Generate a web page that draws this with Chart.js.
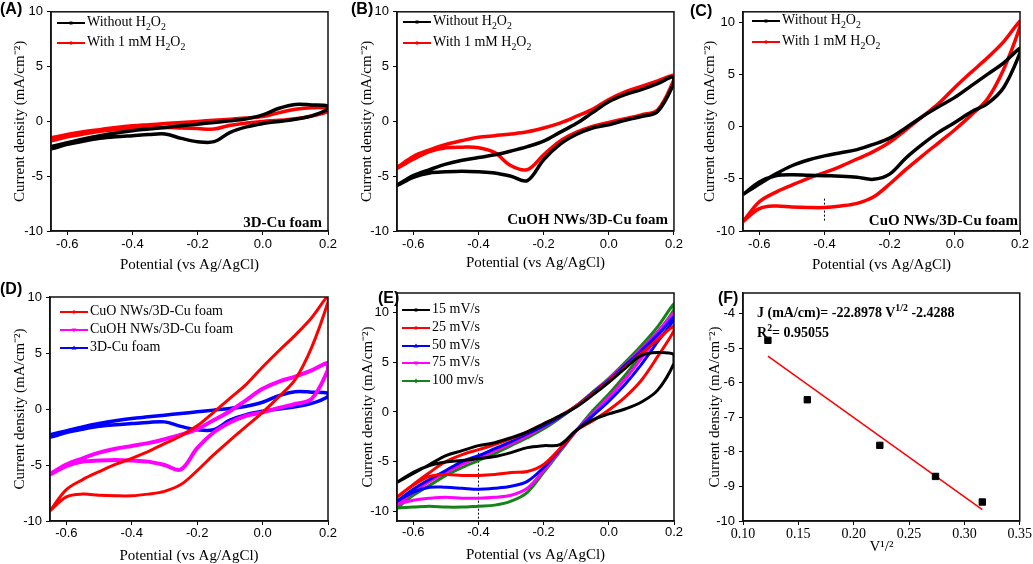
<!DOCTYPE html>
<html><head><meta charset="utf-8">
<script src="https://cdn.jsdelivr.net/npm/chart.js@4.4.1/dist/chart.umd.min.js"></script>
<style>
body{margin:0;background:#fff;width:1033px;height:564px;position:relative;overflow:hidden}
canvas{position:absolute}
.lbl{position:absolute;font:bold 16px "Liberation Sans",Arial,sans-serif;line-height:16px;color:#000}
.leg{position:absolute;font:14px "Liberation Serif","Times New Roman",serif;line-height:16px;white-space:nowrap;color:#000}
.legs{position:absolute}
.note{position:absolute;font:bold 15px "Liberation Serif","Times New Roman",serif;white-space:nowrap;line-height:16px;color:#000}
sub,sup{font-size:70%;line-height:0}
</style></head><body>
<canvas id="cA" width="340" height="280" style="left:0;top:0"></canvas>
<canvas id="cB" width="345" height="280" style="left:340px;top:0"></canvas>
<canvas id="cC" width="348" height="280" style="left:685px;top:0"></canvas>
<canvas id="cD" width="340" height="284" style="left:0;top:280px"></canvas>
<canvas id="cE" width="345" height="284" style="left:340px;top:280px"></canvas>
<canvas id="cF" width="348" height="284" style="left:685px;top:280px"></canvas>
<div id="overlay"></div>
<script>
// ---------- data ----------
const potentials = [-0.65,-0.6,-0.55,-0.5,-0.45,-0.4,-0.35,-0.3,-0.25,-0.2,-0.15,-0.1,-0.05,0,0.05,0.1,0.15,0.2];
const xTicksCV = [-0.6,-0.4,-0.2,0.0,0.2];
const yTicksCV = [-10,-5,0,5,10];
const xTicksF = [0.10,0.15,0.20,0.25,0.30,0.35];
const yTicksF = [-10,-9,-8,-7,-6,-5,-4];

// (A) 3D-Cu foam
const aWithoutUp   = [-2.3,-1.95,-1.6,-1.3,-1.05,-0.85,-0.7,-0.55,-0.4,-0.25,-0.1,0.05,0.25,0.6,1.2,1.55,1.5,1.4];
const aWithoutDown = [-2.5,-2.1,-1.8,-1.55,-1.4,-1.3,-1.2,-1.15,-1.55,-1.85,-1.85,-1.0,-0.5,-0.2,0.0,0.2,0.5,1.1];
const aWithUp      = [-1.5,-1.2,-0.95,-0.75,-0.55,-0.4,-0.3,-0.2,-0.1,0.0,0.1,0.2,0.3,0.45,0.8,1.1,1.25,1.2];
const aWithDown    = [-1.75,-1.4,-1.15,-0.9,-0.75,-0.6,-0.55,-0.55,-0.6,-0.65,-0.7,-0.35,-0.15,0.0,0.1,0.25,0.5,0.9];
// (B) CuOH NWs/3D-Cu foam
const bWithoutUp   = [-5.8,-4.95,-4.4,-3.9,-3.55,-3.3,-3.05,-2.7,-2.3,-1.8,-1.0,-0.2,0.8,1.8,2.45,2.9,3.45,4.1];
const bWithoutDown = [-5.85,-5.1,-4.7,-4.6,-4.55,-4.6,-4.7,-5.0,-5.4,-3.5,-2.1,-1.2,-0.6,-0.3,0.1,0.45,0.9,3.5];
const bWithUp      = [-4.2,-3.2,-2.6,-2.1,-1.75,-1.45,-1.3,-1.15,-0.95,-0.6,-0.15,0.45,1.1,2.0,2.7,3.2,3.7,4.2];
const bWithDown    = [-4.3,-3.45,-2.75,-2.4,-2.35,-2.4,-2.85,-4.05,-4.4,-3.05,-1.8,-1.0,-0.45,-0.1,0.25,0.6,1.05,3.8];
// (C) CuO NWs/3D-Cu foam
const cWithoutUp   = [-6.5,-5.5,-4.55,-3.75,-3.2,-2.8,-2.5,-2.2,-1.7,-1.1,-0.1,0.95,1.9,2.8,3.9,5.0,6.1,7.5];
const cWithoutDown = [-6.5,-5.3,-4.7,-4.6,-4.65,-4.7,-4.75,-4.85,-5.05,-4.55,-3.0,-1.7,-0.55,0.4,1.4,2.2,3.75,7.05];
const cWithUp      = [-9.1,-7.2,-6.3,-5.6,-4.95,-4.4,-3.8,-3.1,-2.4,-1.5,-0.3,0.95,2.2,3.75,5.2,6.6,8.15,10.1];
const cWithDown    = [-9.1,-7.85,-7.6,-7.7,-7.75,-7.75,-7.6,-7.35,-6.75,-5.5,-4.1,-2.8,-1.55,-0.3,1.1,2.65,5.5,9.55];
const cMarkX = [-0.4,-0.4];
const cMarkY = [-6.9,-9.1];
// (E) scan rates
const e15Up   = [-7.1,-6.2,-5.3,-4.4,-3.9,-3.4,-3.1,-2.6,-2.0,-1.2,-0.4,0.5,1.7,3.0,4.4,5.7,6.0,5.8];
const e15Down = [-7.1,-6.1,-5.4,-5.05,-4.9,-4.7,-4.5,-4.1,-3.6,-3.4,-3.3,-1.85,-0.8,-0.2,0.3,1.0,2.2,4.9];
const e25Up   = [-8.6,-7.3,-6.1,-5.0,-4.3,-3.8,-3.3,-2.7,-2.0,-1.2,-0.4,0.6,1.8,3.1,4.5,5.9,7.3,8.7];
const e25Down = [-8.6,-7.4,-6.5,-6.3,-6.4,-6.4,-6.3,-6.1,-6.0,-5.3,-3.7,-1.9,-0.9,0.2,1.5,3.2,5.6,8.2];
const e50Up   = [-9.0,-7.8,-6.8,-5.9,-5.0,-4.4,-3.7,-3.0,-2.2,-1.4,-0.5,0.6,1.9,3.2,4.7,6.2,7.8,9.6];
const e50Down = [-9.0,-8.1,-7.6,-7.6,-7.7,-7.8,-7.7,-7.5,-7.0,-5.6,-3.8,-1.9,-0.4,1.1,2.8,4.8,7.1,9.3];
const e75Up   = [-9.3,-8.1,-7.0,-6.1,-5.3,-4.6,-3.9,-3.2,-2.4,-1.5,-0.5,0.6,1.9,3.3,4.8,6.4,8.1,10.0];
const e75Down = [-9.3,-8.9,-8.7,-8.6,-8.7,-8.7,-8.6,-8.4,-7.7,-5.9,-3.9,-1.9,-0.2,1.5,3.3,5.4,7.6,9.8];
const e100Up  = [-9.7,-8.4,-7.4,-6.4,-5.6,-4.9,-4.2,-3.4,-2.6,-1.7,-0.6,0.6,2.0,3.4,5.0,6.7,8.6,10.9];
const e100Down= [-9.7,-9.6,-9.5,-9.6,-9.6,-9.5,-9.4,-9.0,-8.1,-6.1,-4.0,-1.9,0.1,1.8,3.7,5.8,8.0,10.3];
const eMarkX = [-0.4,-0.4];
const eMarkY = [-3.3,-11];
// (F) peak current vs sqrt(scan rate)
const fX = [0.1225,0.1581,0.2236,0.2739,0.3162];
const fY = [-4.77,-6.49,-7.81,-8.71,-9.45];
const fitX = [0.1225,0.3162];
const fitY = [-5.23,-9.67];

// ---------- helpers ----------
function loop(up, down){
  const pts = potentials.map((x,i)=>({x, y:up[i]}));
  for(let i=potentials.length-1;i>=0;i--) pts.push({x:potentials[i], y:down[i]});
  pts.push({x:potentials[0], y:up[0]});
  return pts;
}
function cv(label, up, down, color, w){
  return {label, data:loop(up,down), borderColor:color, backgroundColor:color, borderWidth:w,
    pointRadius:0, showLine:true, tension:0.35, fill:false};
}
function pairs(xs, ys){ return xs.map((x,i)=>({x, y:ys[i]})); }
function dotted(xs, ys){
  return {label:'marker', data:pairs(xs,ys), borderColor:'#000', borderWidth:1, borderDash:[2,2],
    pointRadius:0, showLine:true, tension:0};
}
const frame = {id:'frame', afterDraw(c){const a=c.chartArea, x=c.ctx; x.save(); x.strokeStyle='#111'; x.lineWidth=1.5;
  x.strokeRect(a.left, a.top, a.right-a.left, a.bottom-a.top); x.restore();}};

const sans = {family:'"Liberation Sans", Arial, sans-serif', size:13};
const serifT = {family:'"Liberation Serif", "Times New Roman", serif', size:14};
const titleFont = {family:'"Liberation Serif", "Times New Roman", serif', size:15, lineHeight:1};
const yTitle = 'Current density (mA/cm\u207B\u00B2)';
const xTitle = 'Potential (vs Ag/AgCl)';

function make(id, datasets, p){
  new Chart(document.getElementById(id), {
    type:'scatter',
    data:{datasets},
    options:{
      responsive:false, animation:false, devicePixelRatio:1,
      layout:{padding:{left:0, right:p.padR, top:p.padT, bottom:0}},
      plugins:{legend:{display:false}, tooltip:{enabled:false}},
      scales:{
        x:{type:'linear', min:p.xmin, max:p.xmax,
          afterFit:s=>{s.height=p.H;},
          afterBuildTicks:s=>{s.ticks=p.xticks.map(v=>({value:v}));},
          ticks:{callback:v=>Number(v).toFixed(p.xdec), font:p.xfont||sans, color:'#000', padding:p.xpad, maxRotation:0, autoSkip:false},
          grid:{drawOnChartArea:false, drawTicks:true, tickLength:4, color:'#000', lineWidth:1},
          border:{color:'#111', width:1.5},
          title:{display:true, text:p.xtitle||xTitle, font:titleFont, color:'#000', padding:{top:0, bottom:p.xtp}}},
        y:{type:'linear', min:p.ymin, max:p.ymax,
          afterFit:s=>{s.width=p.W;},
          afterBuildTicks:s=>{s.ticks=p.yticks.map(v=>({value:v}));},
          ticks:{callback:v=>String(v), font:sans, color:'#000', padding:4, autoSkip:false},
          grid:{drawOnChartArea:false, drawTicks:true, tickLength:4, color:'#000', lineWidth:1},
          border:{color:'#111', width:1.5},
          title:{display:true, text:yTitle, font:titleFont, color:'#000', padding:{top:p.ytp, bottom:0}}}
      }
    },
    plugins:[frame]
  });
}
const base = {xmin:-0.65, xmax:0.2, xticks:xTicksCV, yticks:yTicksCV, xdec:1, ymin:-10, ymax:10};

make('cA', [cv('Without H2O2', aWithoutUp, aWithoutDown, '#000', 3.5), cv('With 1 mM H2O2', aWithUp, aWithDown, '#ff0000', 3.5)],
  Object.assign({}, base, {W:51, H:49, padR:12, padT:8, xpad:2, xtp:7.5, ytp:12.5}));
make('cB', [cv('Without H2O2', bWithoutUp, bWithoutDown, '#000', 3.5), cv('With 1 mM H2O2', bWithUp, bWithDown, '#ff0000', 3.5)],
  Object.assign({}, base, {W:57, H:49, padR:11, padT:8, xpad:2, xtp:9.5, ytp:20}));
make('cC', [cv('Without H2O2', cWithoutUp, cWithoutDown, '#000', 3.5), cv('With 1 mM H2O2', cWithUp, cWithDown, '#ff0000', 3.5), dotted(cMarkX, cMarkY)],
  Object.assign({}, base, {ymax:11, W:58, H:49, padR:13, padT:7, xpad:2, xtp:7.5, ytp:17.5}));
make('cD', [cv('CuO NWs/3D-Cu foam', cWithUp, cWithDown, '#ff0000', 3), cv('CuOH NWs/3D-Cu foam', bWithoutUp, bWithoutDown, '#ff00ff', 4), cv('3D-Cu foam', aWithoutUp, aWithoutDown, '#0000ff', 3.5)],
  Object.assign({}, base, {W:50, H:43, padR:12, padT:17, xpad:1, xtp:0.5, ytp:13}));
make('cE', [cv('15 mV/s', e15Up, e15Down, '#000', 3), cv('25 mV/s', e25Up, e25Down, '#ff0000', 3), cv('50 mV/s', e50Up, e50Down, '#0000ff', 3),
  cv('75 mV/s', e75Up, e75Down, '#ff00ff', 3), cv('100 mv/s', e100Up, e100Down, '#168316', 3), dotted(eMarkX, eMarkY)],
  Object.assign({}, base, {ymin:-11, ymax:12, W:57, H:43, padR:11, padT:13, xpad:0, xtp:1.5, ytp:20.5}));
make('cF', [
  {label:'Data', data:pairs(fX,fY), pointStyle:'rect', pointRadius:4.5, backgroundColor:'#000', borderColor:'#000', showLine:false},
  {label:'Fit', data:pairs(fitX,fitY), borderColor:'#ff0000', borderWidth:1.5, pointRadius:0, showLine:true, tension:0}],
  {xmin:0.10, xmax:0.35, ymin:-10, ymax:-3.4, xticks:xTicksF, yticks:yTicksF, xdec:2, xfont:serifT, xtitle:'V\u00B9/\u00B2',
   W:58, H:43, padR:12, padT:13, xpad:1, xtp:9.5, ytp:22.5});

// ---------- overlay text: panel labels, legends, annotations ----------
const panelLabels = [['(A)',0,1],['(B)',351,1],['(C)',690,3],['(D)',0,281],['(E)',378,290],['(F)',718,290]];
const legH2O2 = ['Without H<sub>2</sub>O<sub>2</sub>', 'With 1 mM H<sub>2</sub>O<sub>2</sub>'];
const legD = ['CuO NWs/3D-Cu foam','CuOH NWs/3D-Cu foam','3D-Cu foam'];
const legE = ['15 mV/s','25 mV/s','50 mV/s','75 mV/s','100 mv/s'];
const ov = document.getElementById('overlay');
let html = '';
panelLabels.forEach(([t,x,y])=>{ html += `<div class="lbl" style="left:${x}px;top:${y}px">${t}</div>`; });
function legend(x, ys, texts, colors, marks){
  ys.forEach((y,i)=>{
    const c = colors[i], m = marks[i];
    let mk = '';
    if(m==='s') mk = `<rect x="12.5" y="2.5" width="3" height="3" fill="${c}"/>`;
    else if(m==='c') mk = `<circle cx="14" cy="4" r="1.7" fill="${c}"/>`;
    else if(m==='u') mk = `<polygon points="14,1.5 16.5,5.5 11.5,5.5" fill="${c}"/>`;
    else if(m==='d') mk = `<polygon points="14,6.5 16.5,2.5 11.5,2.5" fill="${c}"/>`;
    else mk = `<polygon points="14,1.5 16,4 14,6.5 12,4" fill="${c}"/>`;
    html += `<svg class="legs" style="left:${x}px;top:${y-4}px" width="28" height="8"><line x1="0" y1="4" x2="28" y2="4" stroke="${c}" stroke-width="2"/>${mk}</svg>`;
    html += `<div class="leg" style="left:${x+30}px;top:${y-9}px">${texts[i]}</div>`;
  });
}
legend(57, [23,43], legH2O2, ['#000','#ff0000'], ['s','c']);
legend(403, [22,43], legH2O2, ['#000','#ff0000'], ['s','c']);
legend(752, [21,42], legH2O2, ['#000','#ff0000'], ['s','c']);
legend(60, [312,330,348], legD, ['#ff0000','#ff00ff','#0000ff'], ['c','d','u']);
legend(402, [310,328,346,363,381], legE, ['#000','#ff0000','#0000ff','#ff00ff','#168316'], ['s','c','u','d','x']);
const notes = [['3D-Cu foam',322,214],['CuOH NWs/3D-Cu foam',668,211],['CuO NWs/3D-Cu foam',1018,212]];
notes.forEach(([t,r,y])=>{ html += `<div class="note" style="right:${1033-r}px;top:${y}px">${t}</div>`; });
html += `<div class="note" style="left:757px;top:305px;font-size:14px">J (mA/cm)= -22.8978 V<sup>1/2</sup> -2.4288</div>`;
html += `<div class="note" style="left:757px;top:325px;font-size:14px">R<sup>2</sup>= 0.95055</div>`;
ov.innerHTML = html;
</script>
</body></html>
